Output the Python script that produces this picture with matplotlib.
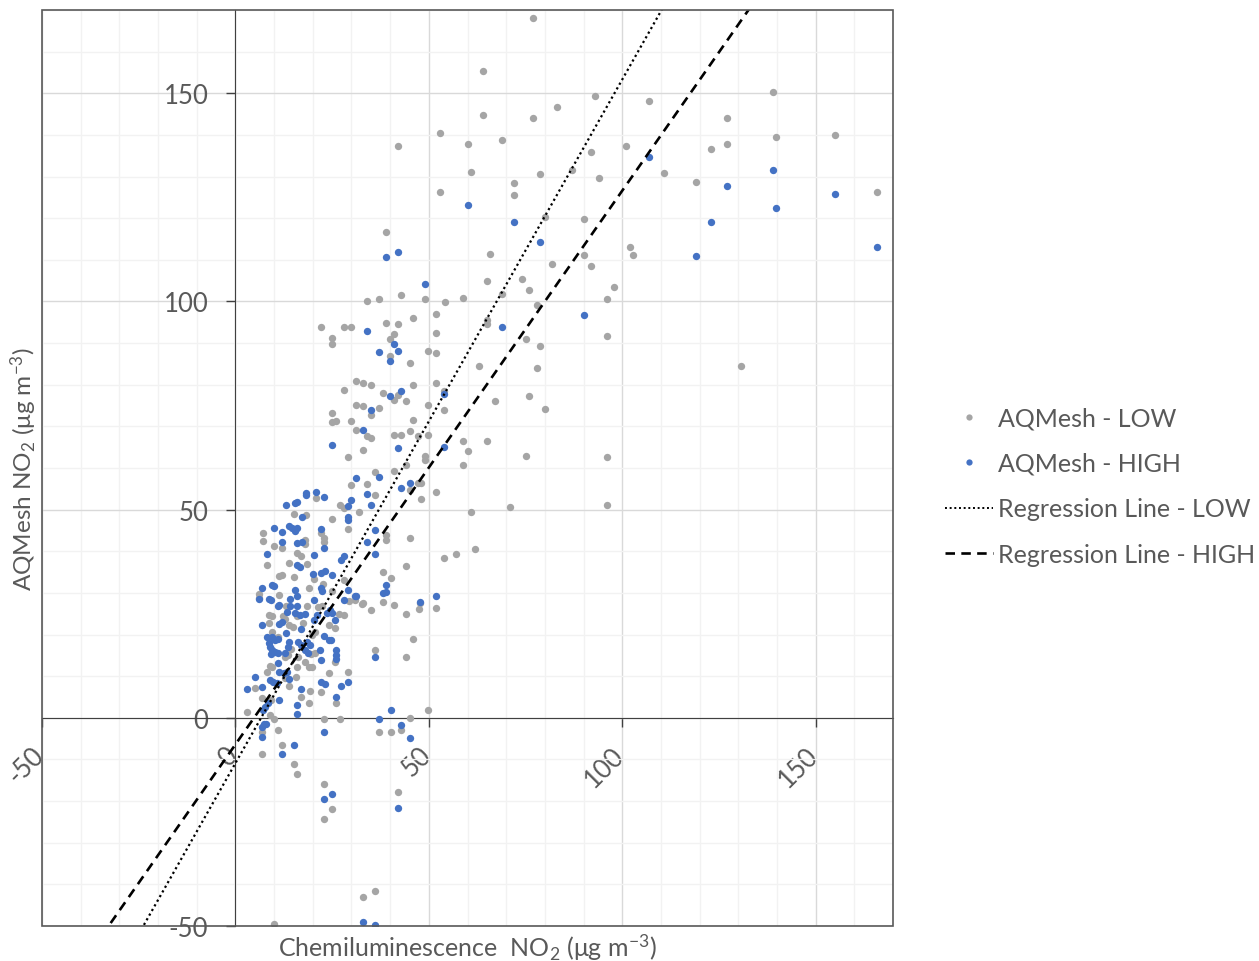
import matplotlib
matplotlib.use('Agg')
import matplotlib.pyplot as plt
import matplotlib.ticker as mticker
import matplotlib.transforms as mtransforms
from matplotlib.patches import Rectangle
from matplotlib.lines import Line2D
import numpy as np

plt.rcParams['font.family'] = ['Lato', 'DejaVu Sans']
plt.rcParams['mathtext.fontset'] = 'custom'
plt.rcParams['mathtext.rm'] = 'Lato'
plt.rcParams['mathtext.default'] = 'regular'
plt.rcParams['axes.unicode_minus'] = False

# AQMesh - LOW (grey points), (chemiluminescence, AQMesh) pairs
low_pts = [
    (76.9, 168.0), (63.9, 155.4), (93.0, 149.4), (106.9, 148.2), (139.0, 150.2), (83.1, 146.6),
    (63.9, 144.8), (76.9, 144.0), (127.0, 144.1), (53.0, 140.5), (42.1, 137.3), (60.0, 137.7),
    (69.0, 138.8), (139.8, 139.5), (154.9, 140.0), (101.0, 137.3), (92.0, 135.8), (122.9, 136.6),
    (127.0, 137.8), (60.8, 131.1), (78.8, 130.7), (86.9, 131.5), (94.0, 129.7), (110.9, 130.8),
    (119.0, 128.8), (53.0, 126.4), (72.1, 128.5), (72.1, 125.6), (165.8, 126.2), (39.0, 116.6),
    (80.0, 120.4), (90.0, 119.9), (101.9, 113.1), (102.9, 111.1), (65.9, 111.3), (90.0, 111.1),
    (81.9, 109.1), (92.0, 108.4), (65.1, 105.0), (74.0, 105.5), (76.0, 102.7), (97.9, 103.5),
    (96.0, 100.6), (69.0, 101.9), (42.9, 101.5), (49.1, 100.7), (54.1, 99.8), (58.9, 100.9),
    (51.9, 96.9), (46.0, 96.0), (39.0, 94.8), (42.1, 94.6), (51.9, 92.5), (65.1, 95.6),
    (65.1, 94.6), (78.0, 99.2), (75.0, 91.0), (96.0, 91.7), (40.9, 92.3), (40.0, 91.0),
    (78.8, 89.3), (33.9, 100.1), (37.0, 100.5),
    (63.1, 84.5), (78.0, 83.9), (130.7, 84.5), (54.0, 78.6), (54.0, 73.9), (67.0, 76.2),
    (76.0, 77.4), (80.0, 74.1), (58.9, 66.5), (65.1, 66.6), (60.1, 64.1), (58.9, 60.7),
    (75.0, 62.9), (96.0, 62.6), (60.8, 49.4), (70.9, 50.6), (96.0, 51.2), (54.0, 38.4),
    (56.9, 39.4), (62.0, 40.5),
    (22.1, 93.8), (28.0, 93.8), (30.0, 93.8), (25.0, 91.3), (25.0, 89.9), (49.9, 88.0),
    (51.8, 87.6), (40.0, 87.0), (45.2, 85.1), (31.1, 80.9), (33.0, 80.3), (35.0, 79.9),
    (28.0, 78.8), (38.1, 77.9), (42.0, 77.6), (41.0, 76.4), (44.0, 76.2), (46.0, 80.0),
    (51.8, 80.4), (49.9, 75.1), (31.1, 75.1), (33.0, 74.8), (35.0, 72.7), (37.0, 74.4),
    (25.0, 73.2), (25.0, 71.0), (26.0, 71.2), (30.0, 71.3), (31.1, 69.2), (34.0, 67.7),
    (35.0, 67.3), (41.0, 68.0), (42.9, 68.0), (45.1, 68.9), (46.0, 71.5), (47.1, 67.8),
    (49.9, 68.0), (33.0, 64.3), (29.1, 62.7), (49.1, 62.9), (49.1, 62.0), (44.0, 60.7),
    (36.1, 59.1), (41.0, 59.3), (30.0, 55.9), (33.9, 56.2), (36.1, 53.5), (45.2, 54.7),
    (47.1, 56.4), (48.0, 56.3), (48.0, 52.6), (51.8, 54.3), (20.9, 52.7), (27.1, 51.0),
    (28.0, 50.5), (31.9, 49.4), (25.0, 47.8), (29.1, 45.3), (22.1, 44.4), (23.0, 43.1),
    (23.0, 42.2), (39.0, 43.8), (39.0, 42.7), (45.2, 43.1), (18.2, 48.6),
    (15.1, 48.9), (7.1, 44.5), (7.1, 42.5), (9.9, 41.3), (12.0, 40.8), (18.1, 42.8),
    (18.1, 41.8), (16.0, 39.7), (16.9, 38.9), (8.1, 36.8), (13.9, 37.3), (11.2, 34.1),
    (12.0, 34.4), (15.1, 33.8), (18.4, 37.0), (20.3, 33.3), (19.1, 31.2), (22.7, 32.1),
    (6.0, 29.8), (6.2, 28.8), (11.2, 29.6), (13.1, 26.9), (8.6, 24.7), (9.5, 24.4),
    (12.2, 24.4), (12.9, 23.7), (16.0, 24.5), (17.6, 22.8), (18.6, 26.9), (21.3, 26.6),
    (28.1, 24.7), (24.1, 22.3), (25.8, 21.5), (14.8, 21.9), (13.8, 22.2), (20.5, 20.7),
    (19.8, 19.9), (8.6, 22.7), (9.5, 20.5), (11.0, 19.5), (12.9, 14.7), (13.6, 15.1),
    (16.2, 14.6), (19.6, 15.3), (20.7, 15.5), (14.5, 16.5), (17.9, 13.3), (19.1, 12.3),
    (19.8, 12.2), (9.0, 12.5), (9.5, 12.3), (15.9, 12.3), (8.1, 11.0), (12.9, 9.5),
    (13.9, 7.7), (15.7, 9.9), (24.1, 10.7), (29.1, 11.1), (25.8, 13.5), (19.2, 6.4),
    (22.2, 6.1), (17.0, 5.1), (6.9, 4.7), (5.0, 7.1), (9.3, 4.3), (31.0, 28.2),
    (32.7, 27.4), (28.1, 33.2), (22.4, 26.8), (25.0, 30.5),
    (33.0, 27.6), (35.0, 26.0), (38.1, 27.7), (40.9, 27.1), (44.0, 24.9), (47.5, 26.2),
    (47.8, 27.6), (51.9, 26.4), (45.9, 19.0), (44.0, 14.5), (36.1, 16.3), (40.1, 33.7),
    (38.1, 35.0), (44.1, 36.4), (29.3, 28.0), (26.9, 24.9),
    (3.0, 1.3), (9.0, 0.7), (10.0, -0.3), (7.0, -3.4), (11.1, -2.9), (7.0, -8.7),
    (12.1, -6.6), (15.1, -11.0), (15.9, -13.4), (19.0, 3.5), (26.1, 3.5), (23.0, -0.2),
    (27.1, -0.2), (23.0, -15.9), (25.0, -21.8), (23.0, -24.3), (37.0, -3.4), (40.1, -3.4),
    (42.9, -3.0), (45.1, 0.0), (49.9, 1.8), (42.1, -17.7), (33.0, -43.1), (36.1, -41.7),
    (10.0, -49.4),
]

# AQMesh - HIGH (blue points)
high_pts = [
    (106.9, 134.8), (139.0, 131.5), (127.0, 127.8), (60.0, 123.2), (154.9, 125.8), (139.8, 122.4),
    (72.1, 119.1), (122.9, 119.1), (78.8, 114.3), (39.0, 110.7), (42.1, 111.9), (119.0, 110.9),
    (165.8, 113.1), (49.1, 104.2), (90.0, 96.8), (69.0, 93.8), (40.9, 89.8), (54.0, 77.8),
    (54.0, 65.0),
    (33.9, 92.8), (37.0, 87.9), (42.0, 88.2), (40.0, 85.8), (42.9, 78.6), (40.0, 77.2),
    (35.0, 73.9), (33.0, 69.2), (25.0, 65.5), (42.0, 64.7), (31.1, 57.5), (37.0, 57.9),
    (33.9, 53.8), (30.0, 52.4), (35.0, 51.2), (29.1, 50.8), (45.2, 56.4), (42.9, 55.1),
    (18.2, 54.0), (18.2, 53.4), (20.9, 54.3), (23.0, 53.1), (29.1, 48.2), (29.1, 47.4),
    (22.1, 45.3), (36.1, 45.1), (33.9, 42.3), (17.2, 48.3), (23.0, 40.9),
    (13.1, 51.1), (15.3, 51.6), (16.0, 51.8), (10.1, 45.7), (12.0, 44.6), (13.8, 46.0),
    (14.6, 45.6), (16.0, 45.7), (15.3, 44.8), (12.0, 42.3), (16.0, 42.0), (17.2, 42.3),
    (8.1, 39.4), (20.2, 39.0), (16.0, 36.7), (16.8, 36.2), (20.0, 34.6), (22.2, 34.9),
    (23.2, 35.2), (25.0, 34.4), (28.0, 38.9), (27.4, 38.0), (9.4, 32.0), (10.0, 31.7),
    (7.0, 31.2), (6.2, 28.6), (8.6, 28.5), (9.2, 28.2), (15.5, 30.8), (16.0, 29.3),
    (14.0, 28.6), (11.2, 27.2), (20.2, 28.4), (22.0, 31.1), (22.5, 30.4), (24.4, 25.8),
    (25.0, 25.1), (23.8, 25.1), (25.8, 23.5), (30.8, 29.3), (28.0, 28.2), (15.5, 25.1),
    (16.8, 24.8), (17.9, 25.0), (14.0, 26.8), (16.0, 26.9), (13.3, 25.5), (11.1, 26.8),
    (11.2, 22.6), (12.0, 22.9), (7.0, 22.3), (20.4, 23.6), (21.0, 24.7), (13.1, 20.3),
    (16.9, 21.3), (8.1, 19.4), (9.5, 19.4), (10.3, 18.7), (11.0, 18.9), (8.6, 17.9),
    (8.9, 17.1), (9.5, 16.3), (10.3, 15.8), (9.1, 15.4), (11.0, 15.5), (13.8, 18.3),
    (13.6, 17.1), (12.9, 15.5), (16.2, 18.3), (17.0, 17.5), (18.6, 18.3), (18.1, 16.3),
    (18.8, 15.5), (19.3, 17.5), (22.8, 19.7), (24.1, 18.7), (24.8, 18.6), (21.9, 16.2),
    (26.0, 16.3), (26.0, 15.2), (22.1, 13.9), (11.0, 13.1), (11.2, 10.9), (12.6, 10.7),
    (13.3, 10.9), (9.0, 9.1), (9.6, 8.7), (10.8, 8.3), (5.0, 9.8), (2.9, 7.0),
    (6.9, 7.5), (13.9, 9.3), (17.0, 6.9), (11.2, 4.3), (22.1, 8.7), (23.1, 8.2),
    (27.2, 7.7), (29.1, 8.6), (26.1, 5.0), (16.0, 3.0), (16.0, 0.9), (8.4, 3.5),
    (7.7, 2.7), (7.2, 1.8), (7.3, -1.5), (7.9, -1.5), (6.9, -2.3), (6.9, -4.5),
    (22.9, -3.4),
    (15.1, -6.5), (12.1, -8.7), (23.0, -19.5), (25.0, -18.3), (37.0, -0.2), (40.1, 1.8),
    (42.9, -1.8), (45.1, -4.9), (42.1, -21.6), (33.0, -49.0), (36.1, -49.8),
    (36.1, 39.3), (38.1, 30.0), (39.0, 30.1), (39.0, 32.0), (47.8, 27.8), (51.9, 29.2),
    (36.1, 14.5), (31.1, 29.2), (26.1, 14.1), (29.2, 30.8),
]

# regression lines (slope, intercept)
reg_low = (1.642, -10.9)
reg_high = (1.33, -6.4)

labels = ['AQMesh - LOW', 'AQMesh - HIGH', 'Regression Line - LOW', 'Regression Line - HIGH']

low = np.array(low_pts)
high = np.array(high_pts)

fig = plt.figure(figsize=(12.59, 9.62), dpi=100)
ax = fig.add_axes([42/1259, 1 - 927/962, (893 - 42)/1259, (927 - 11)/962])

ax.set_xlim(-50, 170)
ax.set_ylim(-50, 170)

grey = '#A5A5A5'
blue = '#4472C4'
ax.scatter(low[:, 0], low[:, 1], s=28, color=grey, linewidths=0, zorder=3)
ax.scatter(high[:, 0], high[:, 1], s=28, color=blue, linewidths=0, zorder=4)

xx = np.array([-60, 180])
ax.plot(xx, reg_low[0]*xx + reg_low[1], color='black', lw=1.6, ls=(0, (1, 1.4)), zorder=5)
ax.plot(xx, reg_high[0]*xx + reg_high[1], color='black', lw=1.9, ls=(0, (3.6, 2.4)), zorder=5)

# grid
ax.xaxis.set_major_locator(mticker.MultipleLocator(50))
ax.yaxis.set_major_locator(mticker.MultipleLocator(50))
ax.xaxis.set_minor_locator(mticker.MultipleLocator(10))
ax.yaxis.set_minor_locator(mticker.MultipleLocator(10))
ax.grid(which='major', color='#D9D9D9', lw=1)
ax.grid(which='minor', color='#F2F2F2', lw=1)
ax.set_axisbelow(True)

# axes through zero
for side in ['top', 'right']:
    ax.spines[side].set_visible(False)
ax.spines['left'].set_position(('data', 0))
ax.spines['bottom'].set_position(('data', 0))
ax.spines['left'].set_color('#404040')
ax.spines['bottom'].set_color('#404040')
ax.add_patch(Rectangle((0, 0), 1, 1, transform=ax.transAxes, fill=False,
                       ec='#595959', lw=1.2, zorder=6, clip_on=False))

ax.tick_params(which='major', length=6.5, width=1, color='#404040', pad=13,
               labelsize=18.5, labelcolor='#595959')
ax.tick_params(which='minor', length=0)
shift = mtransforms.ScaledTranslation(0.07, 0.03, fig.dpi_scale_trans)
for t in ax.get_xticklabels():
    t.set_rotation(45)
    t.set_ha('right')
    t.set_transform(t.get_transform() + shift)

ax.set_xlabel('Chemiluminescence  NO$_2$ (μg m$^{-3}$)', fontsize=18, color='#595959')
ax.set_ylabel('AQMesh NO$_2$ (μg m$^{-3}$)', fontsize=17.5, color='#595959')
ax.xaxis.set_label_coords(0.5, -0.006)
ax.yaxis.set_label_coords(-0.004, 0.5)

handles = [
    Line2D([], [], ls='none', marker='o', ms=4.5, mec='none', mfc=grey),
    Line2D([], [], ls='none', marker='o', ms=4.5, mec='none', mfc=blue),
    Line2D([], [], color='black', lw=1.4, ls=(0, (1, 1.4))),
    Line2D([], [], color='black', lw=1.9, ls=(0, (3.6, 2.4))),
]
leg = fig.legend(handles, labels, loc='center left', bbox_to_anchor=(945/1259, 1 - 487/962),
                 frameon=False, fontsize=18, handlelength=1.9, handletextpad=0.2,
                 labelspacing=0.9, borderpad=0, borderaxespad=0, labelcolor='#595959')

fig.savefig('out.png', dpi=100)
